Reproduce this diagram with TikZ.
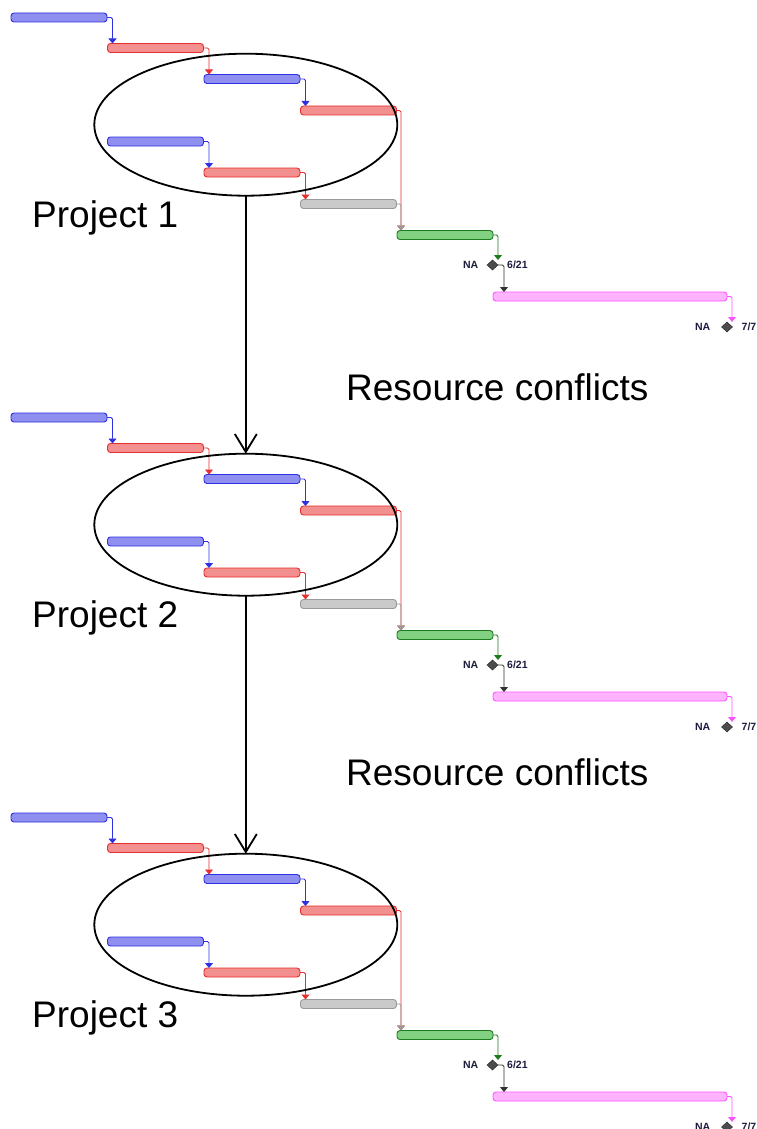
\documentclass[tikz,border=0pt]{standalone}
\usepackage{fontspec}
\setmainfont{Liberation Sans}
\usetikzlibrary{arrows.meta,shapes.geometric,calc}

% task bar colours: outline / fill
\definecolor{blueline}{HTML}{2F2FE6}
\definecolor{bluefill}{HTML}{8F8FF0}
\definecolor{redline}{HTML}{E62E2E}
\definecolor{redfill}{HTML}{F29090}
\definecolor{grayline}{HTML}{9A9A9A}
\definecolor{grayfill}{HTML}{CACACA}
\definecolor{greenline}{HTML}{1E7A1E}
\definecolor{greenfill}{HTML}{82D082}
\definecolor{pinkline}{HTML}{FF55FF}
\definecolor{pinkfill}{HTML}{FFB4FF}
\definecolor{labelink}{HTML}{1C1C3E}

\tikzset{
  bar/.style 2 args={draw=#1, fill=#2, rounded corners=3pt, line width=0.9pt,
    minimum height=9pt, minimum width=96pt, inner sep=0pt, outer sep=0pt,
    anchor=west},
  link/.style={draw=#1, line width=0.9pt, rounded corners=1.5pt,
    -{Triangle[width=8pt,length=5pt]}},
  milestone/.style={diamond, fill=black!70, draw=black!85, line width=0.4pt,
    minimum width=11pt, minimum height=10pt, inner sep=0pt, outer sep=0pt},
  mslabel/.style={font=\fontsize{10.5}{12}\selectfont\bfseries, text=labelink,
    inner sep=0pt},
  bigtext/.style={font=\fontsize{37}{42}\selectfont, inner sep=0pt},
  scopering/.style={ellipse, draw=black, line width=1.8pt, minimum width=303pt,
    minimum height=142pt, inner sep=0pt, outer sep=0pt},
  flow/.style={draw=black, line width=1.8pt,
    -{Straight Barb[length=18pt,width=22pt,line width=1.8pt]}}
}

\begin{document}
\begin{tikzpicture}[x=1pt,y=-1pt]
\useasboundingbox (0,0) rectangle (757,1129);

\foreach \k/\dy in {1/0,2/400,3/800} {
  \begin{scope}[yshift=-\dy pt]
    % schedule bars
    \node[bar={blueline}{bluefill}]   (a\k) at (11,17.5)   {};
    \node[bar={redline}{redfill}]     (b\k) at (107.5,48)  {};
    \node[bar={blueline}{bluefill}]   (c\k) at (204,79)    {};
    \node[bar={redline}{redfill}]     (d\k) at (300.5,110.5) {};
    \node[bar={blueline}{bluefill}]   (e\k) at (107.5,141.5) {};
    \node[bar={redline}{redfill}]     (f\k) at (204,172.5) {};
    \node[bar={grayline}{grayfill}]   (g\k) at (300.5,204) {};
    \node[bar={greenline}{greenfill}] (h\k) at (397,235)   {};
    \node[bar={pinkline}{pinkfill}, minimum width=234pt] (p\k) at (493,296.5) {};

    % milestones with their labels
    \node[milestone] (m\k) at (492.5,265) {};
    \node[mslabel, anchor=base east] (mna\k) at (478.5,268) {NA};
    \node[mslabel, anchor=base west] (mdt\k) at (507,268) {6/21};
    \node[milestone] (n\k) at (727,327) {};
    \node[mslabel, anchor=base east] (nna\k) at (710.5,330) {NA};
    \node[mslabel, anchor=base west] (ndt\k) at (741.5,330) {7/7};

    % dependency links
    \draw[link=blueline]  (a\k.east) -| ([xshift=5pt]b\k.north west);
    \draw[link=redline]   (b\k.east) -| ([xshift=5pt]c\k.north west);
    \draw[link=blueline]  (c\k.east) -| ([xshift=5pt]d\k.north west);
    \draw[link=redline]   (d\k.east) -| ([xshift=4pt]h\k.north west);
    \draw[link=blueline]  (e\k.east) -| ([xshift=5pt]f\k.north west);
    \draw[link=redline]   (f\k.east) -| ([xshift=5pt]g\k.north west);
    \draw[link=grayline]  (g\k.east) -| ([xshift=4pt]h\k.north west);
    \draw[link=greenline] (h\k.east) -| ([xshift=5.5pt]m\k.north);
    \draw[link=black!80]  (m\k.east) -| ([xshift=11pt]p\k.north west);
    \draw[link=pinkline]  (p\k.east) -| ([xshift=5pt]n\k.north);
  \end{scope}
}

% project groupings
\node[scopering] (ring1) at (245.8,124.7) {};
\node[scopering] (ring2) at (245.8,524.7) {};
\node[scopering] (ring3) at (245.8,924.7) {};

\node[bigtext, anchor=base west] (proj1) at (32,227)  {Project 1};
\node[bigtext, anchor=base west] (proj2) at (32,627)  {Project 2};
\node[bigtext, anchor=base west] (proj3) at (32,1027) {Project 3};

\node[bigtext, anchor=base west] (conf1) at (346,400) {Resource conflicts};
\node[bigtext, anchor=base west] (conf2) at (346,785) {Resource conflicts};

\draw[flow] (ring1.south) -- (ring2.north);
\draw[flow] (ring2.south) -- (ring3.north);
\end{tikzpicture}
\end{document}
